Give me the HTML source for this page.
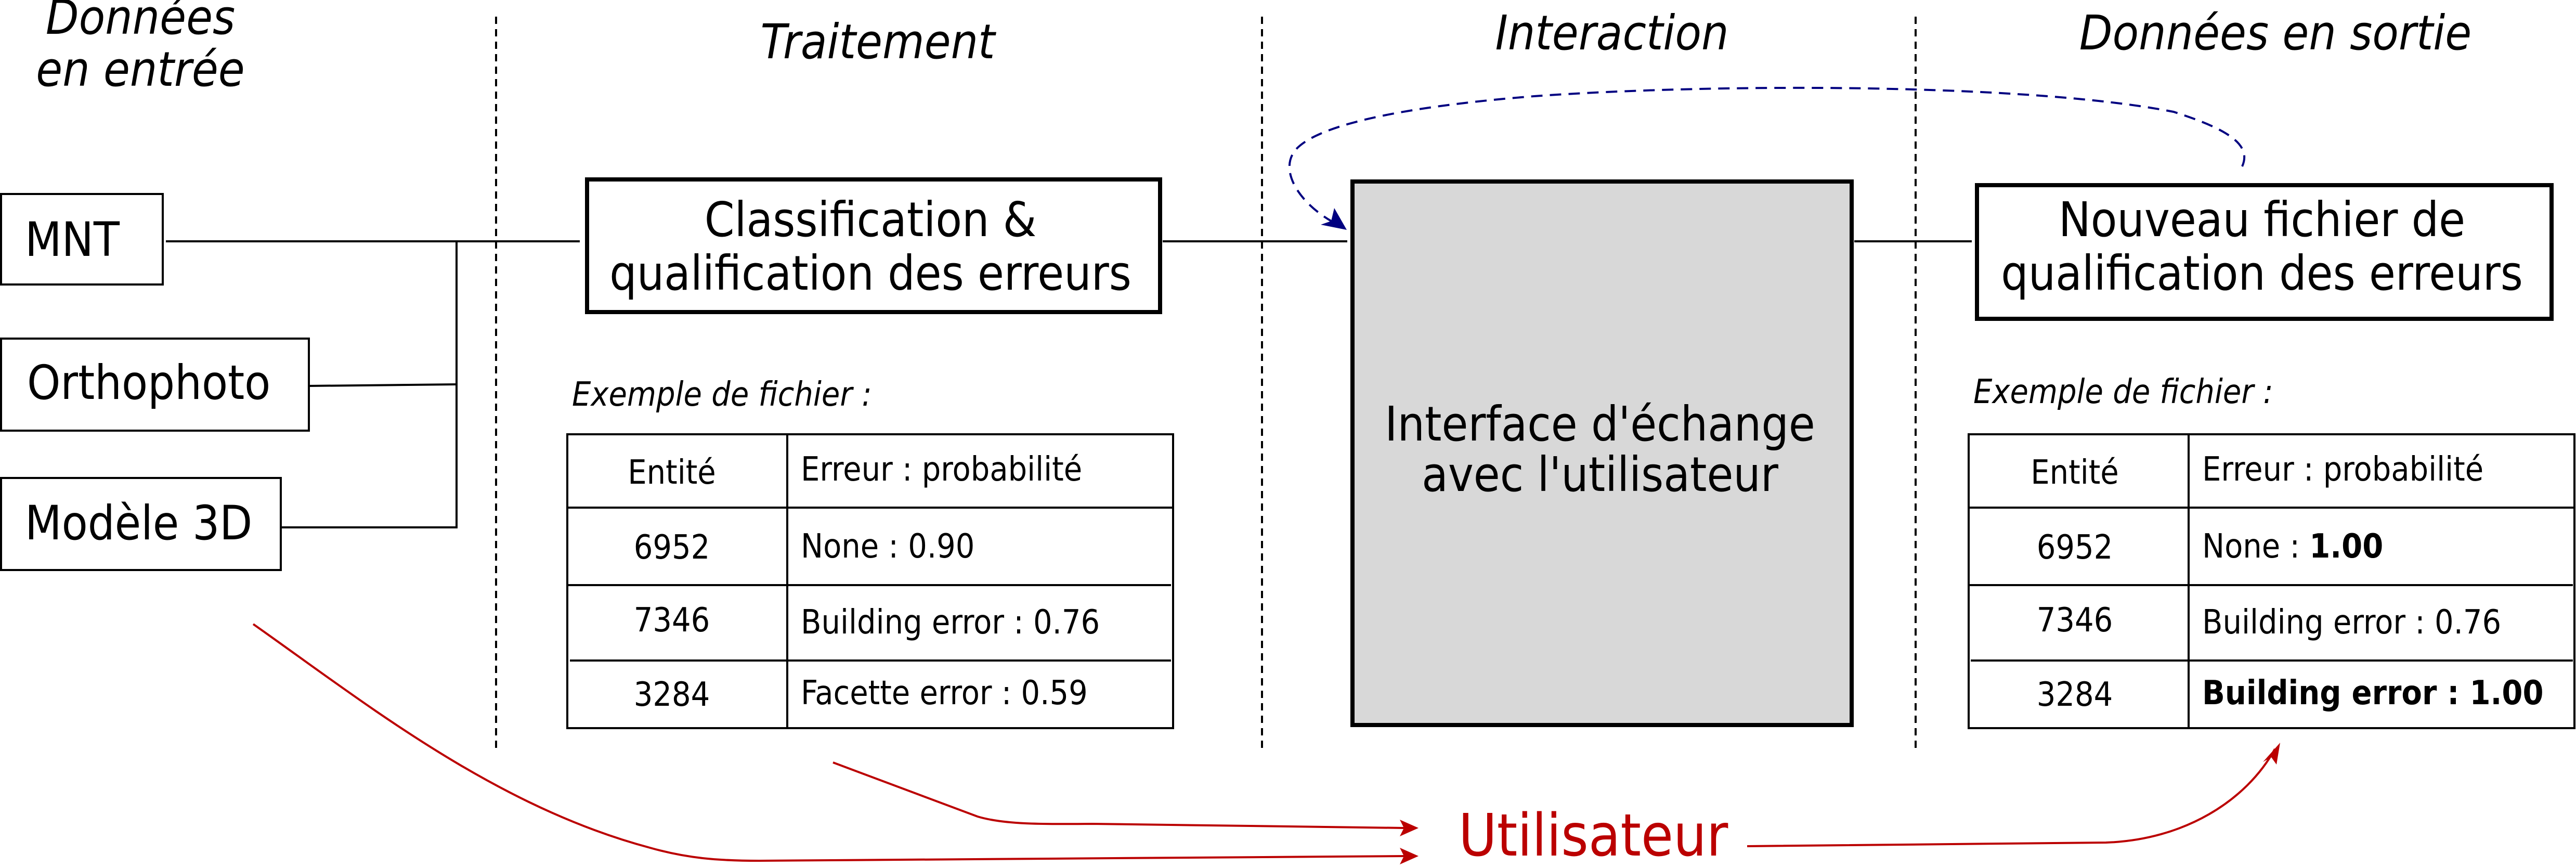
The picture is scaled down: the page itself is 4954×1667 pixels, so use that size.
<!DOCTYPE html>
<html><head><meta charset="utf-8">
<style>
html,body{margin:0;padding:0;background:#fff;}
svg{display:block;}
text{font-family:"DejaVu Sans Condensed","DejaVu Sans","Liberation Sans",sans-serif;font-stretch:condensed;}
</style></head>
<body>
<svg width="4954" height="1667" viewBox="0 0 4954 1667" xmlns="http://www.w3.org/2000/svg">
<!-- dashed separators -->
<g stroke="#000" stroke-width="4" stroke-dasharray="14,10">
<line x1="954" y1="32" x2="954" y2="1444"/>
<line x1="2427" y1="32" x2="2427" y2="1444"/>
<line x1="3684" y1="32" x2="3684" y2="1444"/>
</g>
<!-- headers -->
<g font-style="italic" font-size="92" text-anchor="middle" fill="#000">
<text x="270" y="65">Données</text>
<text x="270" y="165">en entrée</text>
<text x="1688" y="112">Traitement</text>
<text x="3100" y="95">Interaction</text>
<text x="4376" y="95">Données en sortie</text>
</g>
<!-- input boxes -->
<g fill="#fff" stroke="#000" stroke-width="4">
<rect x="2" y="373" width="311" height="174"/>
<rect x="2" y="651" width="592" height="177"/>
<rect x="2" y="919" width="538" height="177"/>
</g>
<g font-size="91" fill="#000">
<text x="48" y="492">MNT</text>
<text x="52" y="767">Orthophoto</text>
<text x="48" y="1037">Modèle 3D</text>
</g>
<!-- connectors -->
<g stroke="#000" stroke-width="4" fill="none">
<line x1="319" y1="464" x2="1115" y2="464"/>
<polyline points="878,464 878,1014 540,1014"/>
<line x1="594" y1="742" x2="878" y2="739"/>
<line x1="2236" y1="464" x2="2591" y2="464"/>
<line x1="3566" y1="464" x2="3792" y2="464"/>
</g>
<!-- classification box -->
<rect x="1129" y="345" width="1102" height="255" fill="#fff" stroke="#000" stroke-width="8"/>
<g font-size="92" text-anchor="middle" fill="#000">
<text x="1674" y="454">Classification &amp;</text>
<text x="1674" y="557">qualification des erreurs</text>
</g>
<!-- interface box -->
<rect x="2601" y="349" width="960" height="1045" fill="#d8d8d8" stroke="#000" stroke-width="8"/>
<g font-size="92" text-anchor="middle" fill="#000">
<text x="3077" y="847">Interface d'échange</text>
<text x="3077" y="944">avec l'utilisateur</text>
</g>
<!-- nouveau box -->
<rect x="3802" y="356" width="1105" height="257" fill="#fff" stroke="#000" stroke-width="8"/>
<g font-size="92" text-anchor="middle" fill="#000">
<text x="4350" y="454">Nouveau fichier de</text>
<text x="4350" y="557">qualification des erreurs</text>
</g>
<!-- exemple labels -->
<g font-style="italic" font-size="64" fill="#000">
<text x="1100" y="780">Exemple de fichier :</text>
<text x="3795" y="775">Exemple de fichier :</text>
</g>
<!-- left table -->
<g stroke="#000" stroke-width="4" fill="none">
<rect x="1091" y="835" width="1165" height="565"/>
<line x1="1514" y1="835" x2="1514" y2="1400"/>
<line x1="1091" y1="976" x2="2256" y2="976"/>
<line x1="1091" y1="1125" x2="2252" y2="1125"/>
<line x1="1096" y1="1270" x2="2252" y2="1270"/>
</g>
<g font-size="64" fill="#000">
<text x="1292" y="930" text-anchor="middle">Entité</text>
<text x="1292" y="1074" text-anchor="middle">6952</text>
<text x="1292" y="1214" text-anchor="middle">7346</text>
<text x="1292" y="1357" text-anchor="middle">3284</text>
<text x="1540" y="924">Erreur : probabilité</text>
<text x="1540" y="1072">None : 0.90</text>
<text x="1540" y="1218">Building error : 0.76</text>
<text x="1540" y="1354">Facette error : 0.59</text>
</g>
<!-- right table -->
<g stroke="#000" stroke-width="4" fill="none">
<rect x="3786" y="835" width="1165" height="565"/>
<line x1="4209" y1="835" x2="4209" y2="1400"/>
<line x1="3786" y1="976" x2="4951" y2="976"/>
<line x1="3786" y1="1125" x2="4948" y2="1125"/>
<line x1="3790" y1="1270" x2="4948" y2="1270"/>
</g>
<g font-size="64" fill="#000">
<text x="3990" y="930" text-anchor="middle">Entité</text>
<text x="3990" y="1074" text-anchor="middle">6952</text>
<text x="3990" y="1214" text-anchor="middle">7346</text>
<text x="3990" y="1357" text-anchor="middle">3284</text>
<text x="4235" y="924">Erreur : probabilité</text>
<text x="4235" y="1072">None : <tspan font-weight="bold">1.00</tspan></text>
<text x="4235" y="1218">Building error : 0.76</text>
<text x="4235" y="1354" font-weight="bold">Building error : 1.00</text>
</g>
<!-- blue dashed feedback -->
<path d="M4312,320 C4330,280 4290,250 4180,215 C3900,160 3300,160 2950,185 C2700,205 2530,240 2490,290 C2460,330 2500,390 2560,425" fill="none" stroke="#000080" stroke-width="4" stroke-dasharray="22,14"/>
<polygon points="2590,442 2540,432 2560,425 2566,400" fill="#000080"/>
<!-- red flows -->
<g stroke="#bb0000" stroke-width="4" fill="none">
<path d="M487,1200 C700,1350 950,1550 1250,1630 C1320,1650 1380,1655 1460,1655 L2700,1646"/>
<path d="M1602,1466 L1880,1570 C1930,1585 2000,1585 2100,1584 L2700,1592"/>
<path d="M3360,1627 L4050,1620 C4200,1615 4320,1540 4375,1440"/>
</g>
<g fill="#bb0000">
<polygon points="2728,1592 2692,1576 2700,1592 2692,1608"/>
<polygon points="2728,1646 2692,1630 2700,1646 2692,1662"/>
<polygon points="4385,1428 4352,1465 4368,1456 4378,1470"/>
</g>
<text x="2805" y="1645" font-size="112" fill="#bb0000">Utilisateur</text>
</svg>
</body></html>
